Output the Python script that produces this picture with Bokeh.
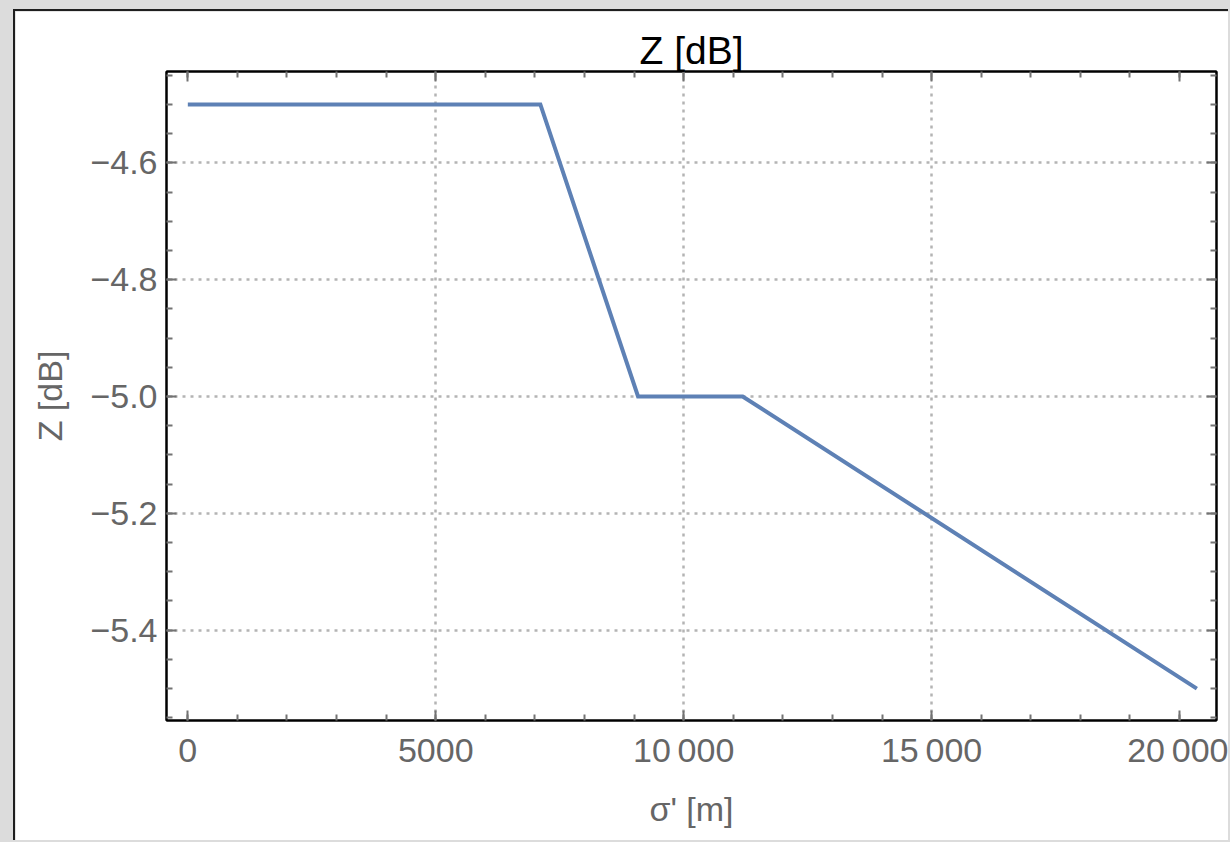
from bokeh.plotting import figure
from bokeh.models import LinearAxis, FixedTicker, Range1d
from bokeh.embed import file_html
from bokeh.resources import INLINE

# ---- data ----
sigma_m = [0, 7110, 9080, 11190, 20350]
z_db = [-4.5, -4.5, -5.0, -5.0, -5.5]

x_ticks = [0, 5000, 10000, 15000, 20000]
x_tick_labels = ["0", "5000", "10\u2009000", "15\u2009000", "20\u2009000"]
x_grid = [5000, 10000, 15000]
x_minor = [0, 1000, 2000, 3000, 4000, 5000, 6000, 7000, 8000, 9000, 10000,
           11000, 12000, 13000, 14000, 15000, 16000, 17000, 18000, 19000, 20000]

y_ticks = [-5.4, -5.2, -5.0, -4.8, -4.6]
y_tick_labels = ["\u22125.4", "\u22125.2", "\u22125.0", "\u22124.8", "\u22124.6"]
y_minor = [-5.55, -5.5, -5.45, -5.4, -5.35, -5.3, -5.25, -5.2, -5.15, -5.1, -5.05, -5.0,
           -4.95, -4.9, -4.85, -4.8, -4.75, -4.7, -4.65, -4.6, -4.55, -4.5, -4.45]

title_text = "Z [dB]"
x_label = "\u03c3' [m]"
y_label = "Z [dB]"

X0, X1 = -430, 20746
Y0, Y1 = -5.5546, -4.4437

FONT = "Liberation Sans"
GRAY_TXT = "#666666"
TICK_C = "#737373"

p = figure(width=1215, height=831, x_range=Range1d(X0, X1), y_range=Range1d(Y0, Y1),
           output_backend="svg", toolbar_location=None,
           min_border_left=151, min_border_top=60, min_border_right=14, min_border_bottom=122,
           background_fill_color="white", border_fill_color="white",
           styles={"margin-left": "13px", "margin-top": "9px",
                   "border-left": "2px solid #1e1e1e", "border-top": "2px solid #1e1e1e"})

p.outline_line_color = "black"
p.outline_line_width = 2

xt = FixedTicker(ticks=x_ticks, minor_ticks=x_minor)
yt = FixedTicker(ticks=y_ticks, minor_ticks=y_minor)


def style_axis(ax, ticker, labels, show_labels):
    ax.ticker = ticker
    ax.axis_line_color = "black"
    ax.axis_line_width = 2
    ax.major_tick_in = 10
    ax.major_tick_out = 0
    ax.minor_tick_in = 6
    ax.minor_tick_out = 0
    ax.major_tick_line_color = TICK_C
    ax.major_tick_line_width = 2
    ax.minor_tick_line_color = TICK_C
    ax.minor_tick_line_width = 2
    ax.major_label_text_font = FONT
    ax.major_label_text_color = GRAY_TXT
    ax.axis_label_text_font = FONT
    ax.axis_label_text_color = GRAY_TXT
    ax.axis_label_text_font_style = "normal"
    ax.axis_label_text_font_size = "34px"
    if show_labels:
        ax.major_label_overrides = {t: l for t, l in zip(ticker.ticks, labels)}
        ax.major_label_text_font_size = "34px"
    else:
        ax.major_label_overrides = {t: "" for t in ticker.ticks}
        ax.major_label_text_font_size = "0px"
        ax.major_label_standoff = 0


xa = p.xaxis[0]
ya = p.yaxis[0]
style_axis(xa, xt, x_tick_labels, True)
style_axis(ya, yt, y_tick_labels, True)
xa.major_label_standoff = 10
ya.major_label_standoff = 9
xa.axis_label = x_label
ya.axis_label = y_label
xa.axis_label_standoff = 18
ya.axis_label_standoff = 18

top = LinearAxis()
right = LinearAxis()
style_axis(top, FixedTicker(ticks=x_ticks, minor_ticks=x_minor), x_tick_labels, False)
style_axis(right, FixedTicker(ticks=y_ticks, minor_ticks=y_minor), y_tick_labels, False)
top.axis_label = title_text
top.axis_label_text_color = "black"
top.axis_label_text_font_size = "39px"
top.axis_label_standoff = 0
p.add_layout(top, "above")
p.add_layout(right, "right")

p.xgrid.ticker = FixedTicker(ticks=x_grid)
p.ygrid.ticker = FixedTicker(ticks=y_ticks)
for g in (p.xgrid, p.ygrid):
    g.grid_line_color = "#b4b4b4"
    g.grid_line_width = 2.5
    g.grid_line_dash = "3 5"

p.line(sigma_m, z_db, line_color="#5e81b5", line_width=4, line_join="miter")

html = file_html(p, INLINE)
i = html.rfind("</head>")
style = "<style>html,body{margin:0;padding:0;background:#dcdcdc;overflow:hidden;}</style>\n"
html = html[:i] + style + html[i:]
open("out.html", "w").write(html)
